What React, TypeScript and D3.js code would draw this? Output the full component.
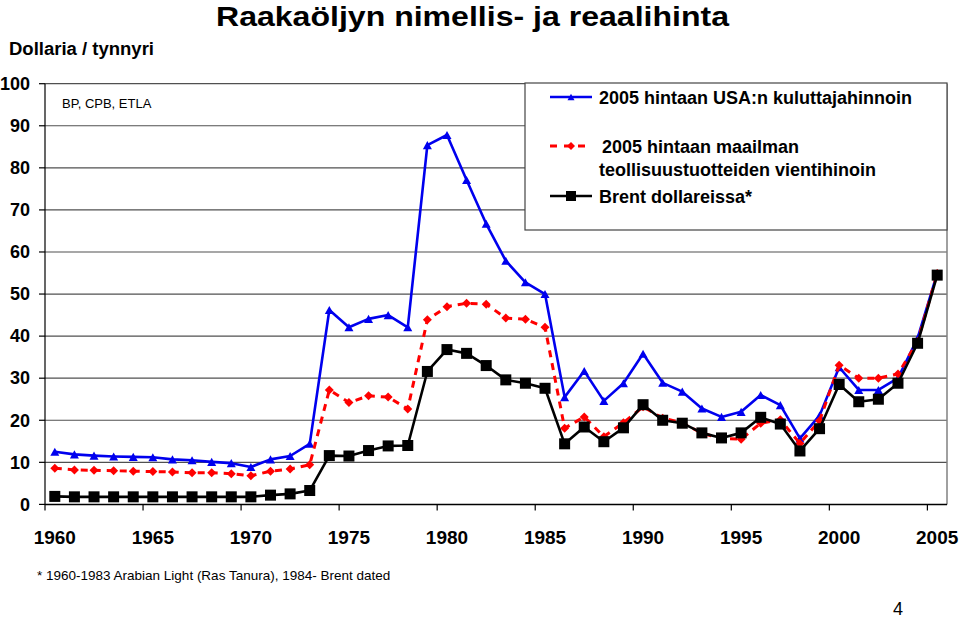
import React from "react";
import * as d3 from "d3";

const years: number[] = d3.range(1960, 2006);

const usaCpi: number[] = [
  12.5, 11.9, 11.6, 11.4, 11.3, 11.2, 10.7, 10.5, 10.1, 9.8,
  8.9, 10.7, 11.5, 14.4, 46.2, 42.1, 44.1, 45.0, 42.1, 85.4,
  87.8, 77.1, 66.7, 57.9, 52.8, 50.0, 25.5, 31.7, 24.6, 28.8,
  35.8, 28.9, 26.8, 22.8, 20.8, 22.0, 26.0, 23.6, 15.7, 21.1,
  32.6, 27.2, 27.2, 30.0, 39.5, 54.9,
];

const worldExport: number[] = [
  8.6, 8.2, 8.1, 8.0, 7.9, 7.8, 7.7, 7.5, 7.5, 7.3,
  6.8, 7.9, 8.4, 9.4, 27.2, 24.2, 25.8, 25.5, 22.7, 43.9,
  47.0, 47.8, 47.6, 44.3, 44.0, 42.1, 18.1, 20.8, 16.1, 19.4,
  23.2, 20.5, 19.4, 16.9, 15.7, 15.5, 19.3, 20.1, 14.5, 19.9,
  33.1, 30.0, 30.0, 31.0, 38.7, 54.9,
];

const brentNominal: number[] = [
  1.9, 1.8, 1.8, 1.8, 1.8, 1.8, 1.8, 1.8, 1.8, 1.8,
  1.8, 2.2, 2.5, 3.3, 11.6, 11.5, 12.8, 13.9, 14.0, 31.6,
  36.8, 35.9, 33.0, 29.6, 28.8, 27.6, 14.4, 18.4, 14.9, 18.2,
  23.7, 20.0, 19.3, 17.0, 15.8, 17.0, 20.7, 19.1, 12.7, 18.0,
  28.5, 24.4, 25.0, 28.8, 38.3, 54.5,
];

const yTicks: number[] = [0, 10, 20, 30, 40, 50, 60, 70, 80, 90, 100];
const xLabelYears: number[] = [1960, 1965, 1970, 1975, 1980, 1985, 1990, 1995, 2000, 2005];

const title = "Raakaöljyn nimellis- ja reaalihinta";
const yTitle = "Dollaria / tynnyri";
const source = "BP, CPB, ETLA";
const legendLabels: string[][] = [
  ["2005 hintaan USA:n kuluttajahinnoin"],
  ["2005 hintaan maailman", "teollisuustuotteiden vientihinoin"],
  ["Brent dollareissa*"],
];
const footnote = "*  1960-1983 Arabian Light (Ras Tanura), 1984- Brent dated";
const pageNo = "4";

const FONT = "'Liberation Sans', Arial, Helvetica, sans-serif";
const BLUE = "#0000ee";
const RED = "#ff0000";
const BLACK = "#000000";

const W = 959;
const H = 620;
const left = 45;
const right = 947;
const top = 83.7;
const bottom = 504.4;

function triangle(cx: number, cy: number, s: number) {
  const h = s * 0.9;
  return `M${cx},${cy - h / 2}L${cx + s / 2},${cy + h / 2}L${cx - s / 2},${cy + h / 2}Z`;
}
function diamond(cx: number, cy: number, s: number) {
  const r = s / 2;
  return `M${cx},${cy - r}L${cx + r},${cy}L${cx},${cy + r}L${cx - r},${cy}Z`;
}

export default function App() {
  const x = d3.scaleBand<number>().domain(years).range([left, right]).padding(0);
  const y = d3.scaleLinear().domain([0, 100]).range([bottom, top]);
  const cx = (yr: number) => (x(yr) as number) + x.bandwidth() / 2;

  const line = d3
    .line<number>()
    .x((_, i) => cx(years[i]))
    .y((v) => y(v));

  const gridVals = yTicks.filter((t) => t > 0);
  const xTickIdx = d3.range(0, years.length, 5);

  return (
    <svg
      width={W}
      height={H}
      style={{ position: "absolute", left: 0, top: 0, background: "#fff" }}
      fontFamily={FONT}
    >
      <rect x={0} y={0} width={W} height={H} fill="#fff" />
      {/* title */}
      <text
        x={216}
        y={26}
        fontSize={28}
        fontWeight="bold"
        textLength={513}
        lengthAdjust="spacingAndGlyphs"
      >
        {title}
      </text>
      <text x={9} y={55} fontSize={18} fontWeight="bold" textLength={145} lengthAdjust="spacingAndGlyphs">
        {yTitle}
      </text>

      {/* grid */}
      {gridVals.map((t) => (
        <line key={t} x1={left} x2={right} y1={y(t)} y2={y(t)} stroke="#505050" strokeWidth={1.2} />
      ))}
      {/* right border */}
      <line x1={right} x2={right} y1={top} y2={bottom} stroke="#808080" strokeWidth={1.5} />

      {/* y axis */}
      <line x1={left} x2={left} y1={top} y2={bottom} stroke="#000" strokeWidth={1.2} />
      {yTicks.map((t) => (
        <g key={t}>
          <line x1={left - 6} x2={left} y1={y(t)} y2={y(t)} stroke="#000" strokeWidth={1.2} />
          <text x={30} y={y(t)} dy="0.35em" textAnchor="end" fontSize={18} fontWeight="bold">
            {t}
          </text>
        </g>
      ))}

      {/* x axis */}
      <line x1={left} x2={right} y1={bottom} y2={bottom} stroke="#000" strokeWidth={1.5} />
      {xTickIdx.map((i) => (
        <line
          key={i}
          x1={x(years[i]) as number}
          x2={x(years[i]) as number}
          y1={bottom}
          y2={bottom + 6}
          stroke="#000"
          strokeWidth={1.2}
        />
      ))}
      {xLabelYears.map((yr) => (
        <text key={yr} x={cx(yr)} y={544} textAnchor="middle" fontSize={19} fontWeight="bold">
          {yr}
        </text>
      ))}

      <text x={62} y={108} fontSize={13}>
        {source}
      </text>

      {/* legend */}
      <rect x={525} y={83} width={422} height={147} fill="#fff" stroke="#444" strokeWidth={1.2} />
      <line x1={550} x2={592} y1={97} y2={97} stroke={BLUE} strokeWidth={2.5} />
      <path d={triangle(571, 97, 7)} fill={BLUE} />
      <line x1={550} x2={592} y1={146} y2={146} stroke={RED} strokeWidth={3} strokeDasharray="7,7" />
      <path d={diamond(571, 146, 8)} fill={RED} />
      <line x1={550} x2={592} y1={196} y2={196} stroke={BLACK} strokeWidth={2.5} />
      <rect x={566} y={191} width={10} height={10} fill={BLACK} />
      <text x={599} y={104} fontSize={18} fontWeight="bold">
        {legendLabels[0][0]}
      </text>
      <text x={602} y={153} fontSize={18} fontWeight="bold">
        {legendLabels[1][0]}
      </text>
      <text x={599} y={176} fontSize={18} fontWeight="bold">
        {legendLabels[1][1]}
      </text>
      <text x={599} y={203} fontSize={18} fontWeight="bold">
        {legendLabels[2][0]}
      </text>

      {/* series: USA CPI */}
      <path d={line(usaCpi) || ""} fill="none" stroke={BLUE} strokeWidth={2.6} strokeLinejoin="round" />
      {usaCpi.map((v, i) => (
        <path key={"b" + i} d={triangle(cx(years[i]), y(v), 9)} fill={BLUE} />
      ))}

      {/* series: world export prices */}
      <path
        d={line(worldExport) || ""}
        fill="none"
        stroke={RED}
        strokeWidth={3}
        strokeDasharray="7,6"
        strokeLinejoin="round"
      />
      {worldExport.map((v, i) => (
        <path key={"r" + i} d={diamond(cx(years[i]), y(v), 9)} fill={RED} />
      ))}

      {/* series: Brent nominal */}
      <path d={line(brentNominal) || ""} fill="none" stroke={BLACK} strokeWidth={2.6} strokeLinejoin="round" />
      {brentNominal.map((v, i) => (
        <rect key={"k" + i} x={cx(years[i]) - 5.5} y={y(v) - 5.5} width={11} height={11} fill={BLACK} />
      ))}

      <text x={37} y={580} fontSize={13.5}>
        {footnote}
      </text>
      <text x={893} y={615} fontSize={18}>
        {pageNo}
      </text>
    </svg>
  );
}
